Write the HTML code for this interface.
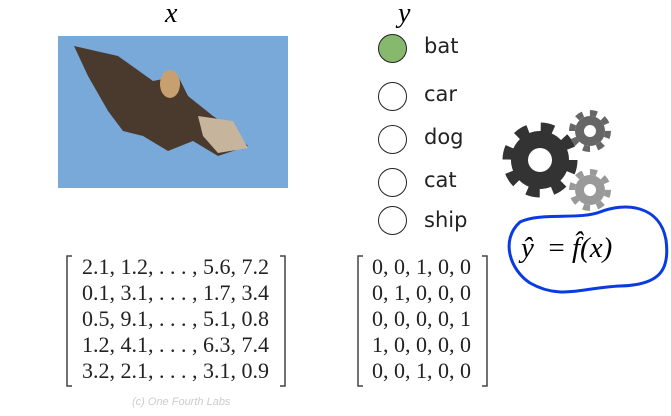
<!DOCTYPE html>
<html><head><style>
body{margin:0;width:671px;height:416px;background:#fff;position:relative;overflow:hidden;font-family:"Liberation Serif",serif}
.t{position:absolute;}
.lbl{font-family:"DejaVu Sans","Liberation Sans",sans-serif;font-size:21px;color:#222;position:absolute;left:424px}
.c{position:absolute;left:378px;width:27px;height:27px;border:1.5px solid #222;border-radius:50%;background:#fff}
.row{position:absolute;font-size:22px;line-height:26px;color:#222;white-space:pre}
</style></head><body>
<div class="t" style="left:165px;top:-2px;font-style:italic;font-size:28px">x</div>
<div class="t" style="left:398px;top:-2px;font-style:italic;font-size:28px">y</div>
<svg style="position:absolute;left:58px;top:36px" width="230" height="152">
<rect width="230" height="152" fill="#79a9d8"/>
<path d="M16 10 L60 20 L95 45 L120 40 L130 60 L155 80 L170 90 L190 110 L160 120 L135 105 L110 115 L85 100 L65 95 L50 75 L30 40 Z" fill="#4a3a2e"/>
<path d="M140 80 L175 85 L190 112 L160 117 L145 100Z" fill="#c7b49c"/>
<ellipse cx="112" cy="48" rx="10" ry="14" fill="#c8a070"/>
</svg>
<div class="c" style="top:34px;background:#86b86e"></div>
<div class="c" style="top:82px"></div>
<div class="c" style="top:125px"></div>
<div class="c" style="top:168px"></div>
<div class="c" style="top:206px"></div>
<div class="lbl" style="top:34px">bat</div>
<div class="lbl" style="top:82px">car</div>
<div class="lbl" style="top:125px">dog</div>
<div class="lbl" style="top:168px">cat</div>
<div class="lbl" style="top:208px">ship</div>
<svg style="position:absolute;left:0;top:0" width="671" height="416">
<g fill="none" stroke="#444" stroke-width="1.5">
<path d="M72 256 H67 V386 H72"/><path d="M280 256 H285 V386 H280"/>
<path d="M363 256 H358 V386 H363"/><path d="M482 256 H487 V386 H482"/>
</g>
<g>
<circle cx="540" cy="160" r="29" fill="#333"/>
<circle cx="540" cy="160" r="33" fill="none" stroke="#333" stroke-width="9" stroke-dasharray="13 13"/>
<circle cx="540" cy="160" r="12" fill="#fff"/>
<circle cx="590" cy="131" r="15" fill="#666"/>
<circle cx="590" cy="131" r="18" fill="none" stroke="#666" stroke-width="6" stroke-dasharray="7 7.1"/>
<circle cx="590" cy="131" r="6" fill="#fff"/>
<circle cx="590" cy="190" r="15" fill="#999"/>
<circle cx="590" cy="190" r="18" fill="none" stroke="#999" stroke-width="6" stroke-dasharray="7 7.1"/>
<circle cx="590" cy="190" r="6" fill="#fff"/>
</g>
<path d="M520 222 C540 212 580 220 600 212 C625 202 660 205 666 240 C670 270 660 285 620 286 C580 288 560 300 530 283 C510 270 500 240 520 222Z" fill="none" stroke="#0a3be0" stroke-width="3"/>
</svg>
<div class="t" style="left:521px;top:232px;font-size:29px;font-style:italic;white-space:pre">ŷ  <span style="font-style:normal">=</span> f̂(x)</div>
<div class="row" style="left:82px;top:254px">2.1, 1.2, . . . , 5.6, 7.2
0.1, 3.1, . . . , 1.7, 3.4
0.5, 9.1, . . . , 5.1, 0.8
1.2, 4.1, . . . , 6.3, 7.4
3.2, 2.1, . . . , 3.1, 0.9</div>
<div class="row" style="left:372px;top:254px">0, 0, 1, 0, 0
0, 1, 0, 0, 0
0, 0, 0, 0, 1
1, 0, 0, 0, 0
0, 0, 1, 0, 0</div>
<div class="t" style="left:132px;top:396px;font-family:'Liberation Sans',sans-serif;font-size:11px;color:#ccc;font-style:italic">(c) One Fourth Labs</div>
</body></html>
